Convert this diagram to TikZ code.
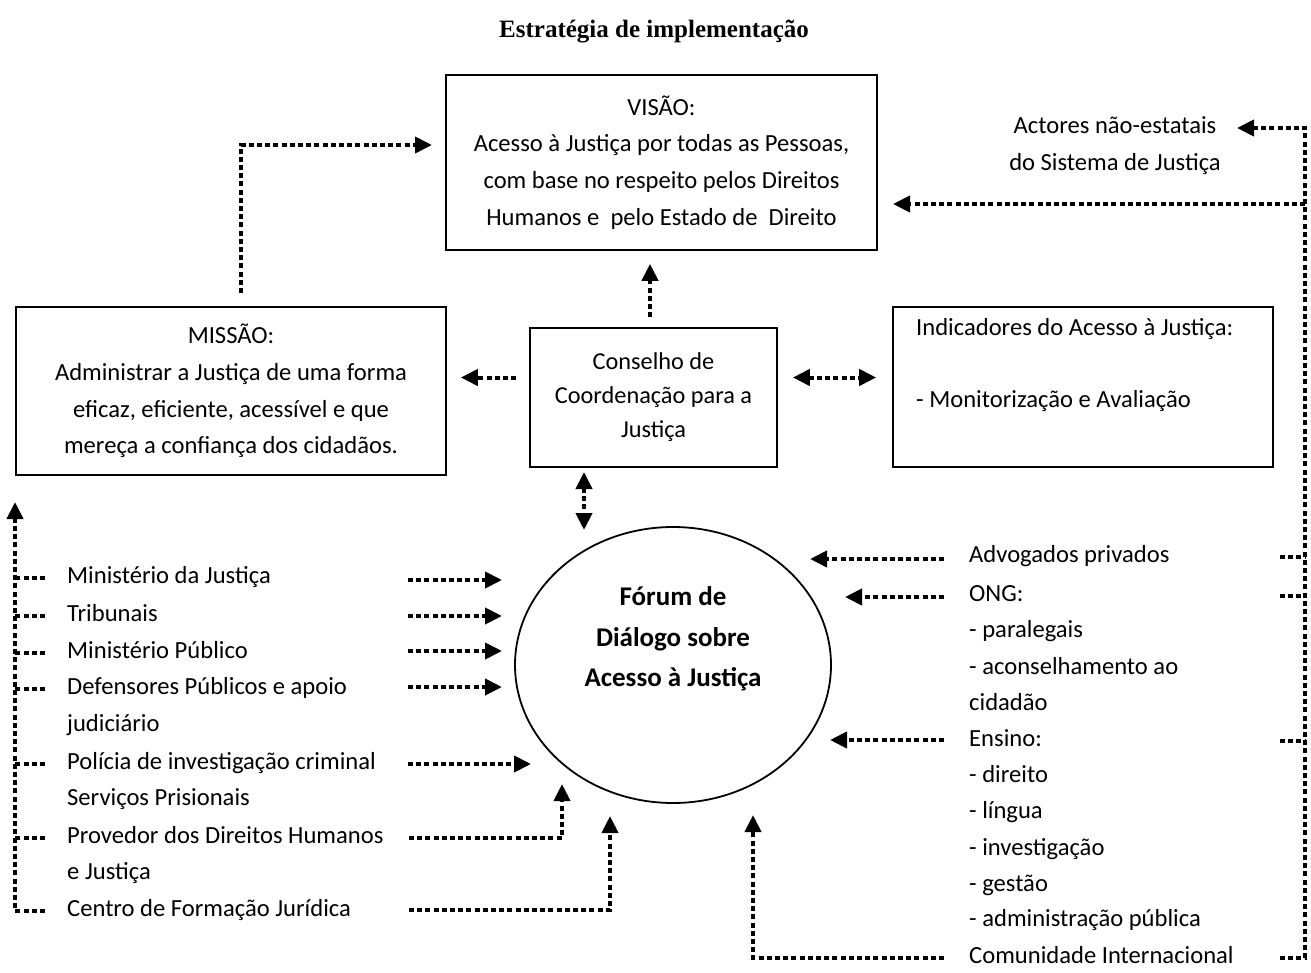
\documentclass[tikz,border=0pt]{standalone}
\usepackage{fontspec}
\setmainfont{Carlito}
\newfontfamily\titlefont{Liberation Serif}
\usetikzlibrary{arrows.meta,shapes.geometric}
\begin{document}
\begin{tikzpicture}[x=1pt,y=-1pt,
  every node/.style={font=\fontsize{24.6}{36.8}\selectfont},
  box/.style={draw,line width=1.6pt,inner sep=0pt,align=center},
  txt/.style={inner sep=0pt,anchor=west,text height=17pt,text depth=6pt},
  dots/.style={line width=4pt,dash pattern=on 5pt off 3.2pt},
  tip/.style={-{Triangle[length=17pt,width=16pt]}},
  arr/.style={dots,tip},
  darr/.style={dots,{Triangle[length=17pt,width=16pt]}-{Triangle[length=17pt,width=16pt]}}
]
\useasboundingbox (0,0) rectangle (1311,973);

% title
\node[font={\titlefont\bfseries\fontsize{25}{30}\selectfont}] (title) at (654,32) {Estratégia de implementação};

% boxes
\node[box,minimum width=431pt,minimum height=175pt] (visao) at (661.5,162.5)
  {VISÃO:\\Acesso à Justiça por todas as Pessoas,\\com base no respeito pelos Direitos\\Humanos e\ \ pelo Estado de\ \ Direito};
\node[align=center] (actors) at (1115,146) {Actores não-estatais\\do Sistema de Justiça};
\node[box,minimum width=430pt,minimum height=168pt] (missao) at (231,391)
  {MISSÃO:\\Administrar a Justiça de uma forma\\eficaz, eficiente, acessível e que\\mereça a confiança dos cidadãos.};
\node[box,minimum width=247pt,minimum height=139pt,font=\fontsize{24.3}{34}\selectfont] (cons) at (653.5,397.5)
  {Conselho de\\Coordenação para a\\Justiça};
\node[box,minimum width=380pt,minimum height=160pt] (ind) at (1083,387) {};
\node[txt] (indt) at (916,330) {Indicadores do Acesso à Justiça:};
\node[txt] (indm) at (916,402) {- Monitorização e Avaliação};

% forum
\node[draw,ellipse,line width=1.8pt,minimum width=316pt,minimum height=276pt,inner sep=0pt] (forum) at (673,665) {};
\node[align=center,font=\fontsize{27}{40.5}\selectfont\bfseries] (forumt) at (673,639)
  {Fórum de\\Diálogo sobre\\Acesso à Justiça};

% left list
\node[txt] (mj) at (67,578) {Ministério da Justiça};
\node[txt] (trib) at (67,616) {Tribunais};
\node[txt] (mp) at (67,653) {Ministério Público};
\node[txt] (def) at (67,689) {Defensores Públicos e apoio};
\node[txt] (defb) at (67,726) {judiciário};
\node[txt] (pol) at (67,764) {Polícia de investigação criminal};
\node[txt] (serv) at (67,800) {Serviços Prisionais};
\node[txt] (prov) at (67,838) {Provedor dos Direitos Humanos};
\node[txt] (provb) at (67,874) {e Justiça};
\node[txt] (cfj) at (67,911) {Centro de Formação Jurídica};

% right list
\node[txt] (adv) at (969,557) {Advogados privados};
\node[txt] (ong) at (969,596) {ONG:};
\node[txt] (par) at (969,632) {- paralegais};
\node[txt] (acon) at (969,669) {- aconselhamento ao};
\node[txt] (cid) at (969,705) {cidadão};
\node[txt] (ens) at (969,741) {Ensino:};
\node[txt] (dir) at (969,777) {- direito};
\node[txt] (lin) at (969,813) {- língua};
\node[txt] (inv) at (969,850) {- investigação};
\node[txt] (ges) at (969,886) {- gestão};
\node[txt] (adm) at (969,921) {- administração pública};
\node[txt] (com) at (969,958) {Comunidade Internacional};

% connectors around the council
\draw[arr,shorten <=10pt,shorten >=13pt] (cons.north -| 650,0) -- (visao.south -| 650,0);
\draw[arr,shorten <=13pt,shorten >=14pt] (cons.west) ++(0,-20) coordinate (cw) (cw) -- (cw -| missao.east);
\draw[darr,shorten <=15pt,shorten >=16pt] (cons.east) ++(0,-20) coordinate (ce) (ce) -- (ce -| ind.west);
\coordinate (cd1) at (584,472);
\coordinate (cd2) at (584,530);
\draw[darr] (cd1) -- (cd2);

% mission to vision
\coordinate (m1) at (241,293);
\coordinate (m2) at (432,145);
\draw[arr] (m1) |- (m2);

% left bus
\coordinate (lb0) at (15,911);
\coordinate (lbt) at (15,502);
\draw[arr] (45,911) -- (lb0) -- (lbt);
\foreach \n in {mj,trib,mp,def,pol,prov}
  \draw[dots] ([xshift=-22pt]\n.west) -- (lb0 |- \n.west);

% left arrows to forum
\foreach \n/\y in {mj/580,trib/616,mp/651,def/687}{
  \coordinate (\n a) at (408,\y);
  \coordinate (\n b) at (502,\y);
  \draw[arr] (\n a) -- (\n b);
}
\coordinate (pola) at (408,764);
\coordinate (polb) at (531,764);
\draw[arr] (pola) -- (polb);
\coordinate (prova) at (409,838);
\coordinate (provt) at (562,784);
\draw[arr] (prova) -| (provt);
\coordinate (cfja) at (409,910);
\coordinate (cfjt) at (610,816);
\draw[arr] (cfja) -| (cfjt);

% right side arrows to forum
\coordinate (adva) at (944,559);
\coordinate (advb) at (810,559);
\draw[arr] (adva) -- (advb);
\coordinate (onga) at (944,597);
\coordinate (ongb) at (845,597);
\draw[arr] (onga) -- (ongb);
\coordinate (ensa) at (944,740);
\coordinate (ensb) at (830,740);
\draw[arr] (ensa) -- (ensb);
\coordinate (coma) at (944,958);
\coordinate (comt) at (753,815);
\draw[arr] (coma) -| (comt);

% right bus
\coordinate (rb0) at (1305,958);
\coordinate (rbt) at (1305,128);
\coordinate (act) at (1237,128);
\draw[arr] (1280,958) -- (rb0) -- (rbt) -- (act);
\coordinate (rbv) at (1305,204);
\coordinate (vist) at (893,204);
\draw[arr] (rbv) -- (vist);
\foreach \y in {557,596,741}
  \draw[dots] (1280,\y) -- (1305,\y);
\end{tikzpicture}
\end{document}
